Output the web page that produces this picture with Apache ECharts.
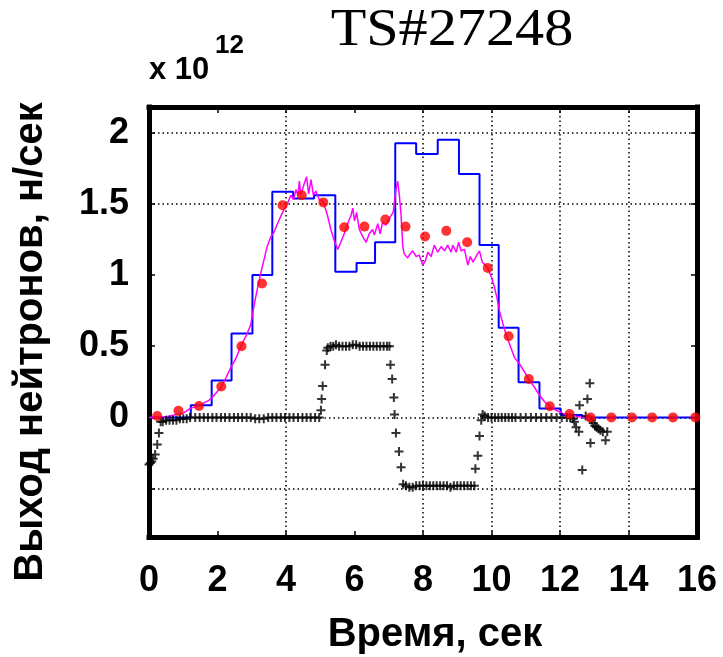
<!DOCTYPE html>
<html>
<head>
<meta charset="utf-8">
<script src="https://cdn.jsdelivr.net/npm/echarts@6/dist/echarts.min.js"></script>
<style>
  html, body { margin: 0; padding: 0; background: #fff; }
  #chart { width: 723px; height: 657px; }
</style>
</head>
<body>
<div id="chart"></div>
<script>
// blue step curve: start time of each step and its level (x 10^12 n/s)
const stepTimes = [0, 1.22, 1.83, 2.41, 3.02, 3.6, 4.21, 4.82, 5.44, 6.06, 6.6, 7.19, 7.8, 8.43, 9.05, 9.65, 10.21, 10.79, 11.4, 12.02, 12.65, 16];
const stepLevels = [0, 0.085, 0.26, 0.59, 1.0, 1.585, 1.537, 1.56, 1.023, 1.085, 1.23, 1.925, 1.85, 1.95, 1.71, 1.21, 0.63, 0.247, 0.062, 0.016, 0, 0];

// red dots
const dotTimes = [0.24, 0.86, 1.46, 2.11, 2.7, 3.3, 3.9, 4.46, 5.09, 5.7, 6.29, 6.9, 7.49, 8.06, 8.68, 9.29, 9.89, 10.5, 11.09, 11.7, 12.28, 12.89, 13.5, 14.1, 14.69, 15.3, 15.95];
const dotValues = [0.01, 0.046, 0.08, 0.217, 0.5, 0.94, 1.49, 1.56, 1.51, 1.335, 1.34, 1.39, 1.34, 1.27, 1.31, 1.23, 1.05, 0.57, 0.27, 0.078, 0.023, 0, 0, 0, 0, 0, 0];

// magenta measured trace
const traceTimes = [0, 0.5, 1.0, 1.22, 1.37, 1.55, 1.75, 1.92, 2.1, 2.25, 2.39, 2.55, 2.68, 2.85, 2.97, 3.07, 3.17, 3.27, 3.36, 3.45, 3.56, 3.65, 3.75, 3.9, 4.04, 4.14, 4.22, 4.29, 4.35, 4.39, 4.43, 4.53, 4.6, 4.66, 4.73, 4.8, 4.87, 4.97, 5.07, 5.12, 5.21, 5.31, 5.41, 5.51, 5.6, 5.7, 5.8, 5.9, 5.95, 6.0, 6.06, 6.14, 6.24, 6.34, 6.43, 6.53, 6.58, 6.68, 6.75, 6.82, 6.92, 7.02, 7.13, 7.21, 7.26, 7.31, 7.36, 7.41, 7.45, 7.5, 7.55, 7.6, 7.7, 7.8, 7.89, 7.99, 8.07, 8.14, 8.24, 8.33, 8.43, 8.53, 8.63, 8.72, 8.82, 8.87, 8.97, 9.04, 9.11, 9.21, 9.31, 9.38, 9.46, 9.55, 9.65, 9.73, 9.82, 9.89, 9.99, 10.09, 10.16, 10.23, 10.33, 10.43, 10.58, 10.67, 10.82, 10.96, 11.11, 11.26, 11.4, 11.55, 11.7, 11.89, 12.08, 12.28, 12.57, 12.8, 13.0];
const traceValues = [0, 0.005, 0.03, 0.065, 0.074, 0.095, 0.12, 0.16, 0.21, 0.28, 0.35, 0.42, 0.5, 0.58, 0.65, 0.79, 0.91, 1.02, 1.11, 1.2, 1.27, 1.3, 1.36, 1.44, 1.5, 1.56, 1.53, 1.6, 1.56, 1.66, 1.56, 1.64, 1.69, 1.57, 1.67, 1.56, 1.59, 1.53, 1.52, 1.49, 1.42, 1.32, 1.24, 1.18, 1.23, 1.29, 1.36, 1.42, 1.47, 1.38, 1.44, 1.32, 1.27, 1.23, 1.29, 1.32, 1.28, 1.36, 1.29, 1.37, 1.35, 1.4, 1.44, 1.6, 1.66, 1.56, 1.42, 1.2, 1.15, 1.16, 1.12, 1.14, 1.17, 1.13, 1.14, 1.07, 1.1, 1.16, 1.13, 1.21, 1.16, 1.2, 1.17, 1.21, 1.16, 1.21, 1.16, 1.23, 1.17, 1.18, 1.07, 1.13, 1.09, 1.13, 1.17, 1.09, 1.07, 1.05, 0.99, 0.91, 0.84, 0.75, 0.66, 0.58, 0.48, 0.42, 0.375, 0.32, 0.26, 0.21, 0.155, 0.11, 0.078, 0.05, 0.028, 0.016, 0.005, 0, 0];

// black crosses
const crossTimes = [
  0.0, 0.04, 0.08, 0.12, 0.18, 0.24, 0.29, 0.34,
  0.4, 0.5, 0.6, 0.7, 0.8, 0.9, 1.0, 1.1, 1.2, 1.35, 1.48, 1.6, 1.72, 1.85, 1.97, 2.1, 2.22, 2.35, 2.48, 2.6, 2.72, 2.85, 2.97, 3.1, 3.22, 3.35, 3.48, 3.6, 3.72, 3.85, 3.97, 4.1, 4.22, 4.35, 4.48, 4.6, 4.72, 4.85, 4.97,
  5.02, 5.04, 5.07, 5.14, 5.19,
  5.22, 5.3, 5.38, 5.46, 5.55, 5.65, 5.75, 5.85, 5.95, 6.05, 6.15, 6.25, 6.35, 6.45, 6.55, 6.65, 6.75, 6.85, 6.95, 7.02,
  7.05, 7.1, 7.15, 7.17, 7.21, 7.3, 7.36,
  7.42, 7.5, 7.6, 7.7, 7.8, 7.9, 8.0, 8.1, 8.2, 8.3, 8.4, 8.5, 8.6, 8.7, 8.8, 8.9, 9.0, 9.1, 9.2, 9.3, 9.4, 9.5,
  9.53, 9.6, 9.65, 9.7, 9.74,
  9.8, 9.9, 10.0, 10.1, 10.2, 10.3, 10.4, 10.5, 10.6, 10.7, 10.85, 11.0, 11.15, 11.3, 11.45, 11.6, 11.75, 11.9, 12.05, 12.2, 12.3, 12.38,
  12.42, 12.47, 12.55, 12.57, 12.65, 12.75, 12.8, 12.87, 12.89, 12.92, 12.97, 13.02, 13.07, 13.12, 13.18, 13.25, 13.33, 13.38
];
const crossValues = [
  -0.33, -0.32, -0.31, -0.29, -0.26, -0.19, -0.11, -0.03,
  -0.03, -0.02, -0.02, -0.02, -0.02, -0.01, -0.01, -0.01, 0, 0, 0, 0, 0, 0, 0, 0, 0, 0, 0, 0, 0, 0, 0, -0.01, -0.01, -0.01, 0, 0, 0, 0, 0, 0, 0, 0, 0, 0, 0, 0, 0,
  0.05, 0.13, 0.22, 0.37, 0.47,
  0.49, 0.5, 0.5, 0.51, 0.5, 0.5, 0.5, 0.5, 0.51, 0.51, 0.5, 0.5, 0.5, 0.5, 0.5, 0.5, 0.5, 0.5, 0.5, 0.5,
  0.37, 0.27, 0.14, 0.02, -0.11, -0.24, -0.35,
  -0.47, -0.48, -0.49, -0.49, -0.48, -0.48, -0.48, -0.48, -0.48, -0.48, -0.48, -0.48, -0.48, -0.48, -0.49, -0.48, -0.48, -0.48, -0.48, -0.48, -0.48, -0.48,
  -0.36, -0.27, -0.13, -0.02, 0.02,
  0.01, 0, 0, 0, 0, 0, 0, 0, 0, 0, 0, 0, 0, 0, 0, 0, 0, 0, 0, 0, 0, -0.01,
  -0.03, -0.07, -0.1, 0.085, -0.37, 0.01, 0.13, 0.24, -0.18, -0.02, -0.04, -0.06, -0.07, -0.08, -0.09, -0.1, -0.16, -0.1
];

// axes
const yTickValues = [-0.5, 0, 0.5, 1, 1.5, 2];
const yLabelValues = [0, 0.5, 1, 1.5, 2];
const xGridValues = [4, 8, 10, 12, 14];
const yGridValues = [-0.5, 0, 1.5, 2];

const pairs = (xs, ys) => xs.map((x, i) => [x, ys[i]]);

const chart = echarts.init(document.getElementById('chart'));

const sans = '"Liberation Sans", Arial, sans-serif';
const frameLine = { show: true, onZero: false, lineStyle: { color: '#000', width: 5, cap: 'square' } };
const innerTick = { show: true, inside: true, length: 6, lineStyle: { color: '#000', width: 1.5 } };
const dotted = { show: true, lineStyle: { color: '#000', width: 1.5, type: [1.5, 3] } };

const xRange = { type: 'value', min: 0, max: 16, interval: 2 };
const yRange = { type: 'value', min: -0.84, max: 2.18 };

const option = {
  animation: false,
  backgroundColor: '#fff',
  grid: { left: 149, top: 107, right: 26, bottom: 120, containLabel: false, outerBoundsMode: 'none' },
  xAxis: [
    Object.assign({}, xRange, {
      position: 'bottom',
      axisLine: frameLine,
      axisTick: innerTick,
      axisLabel: { margin: 26, color: '#000', fontWeight: 'bold', fontSize: 36, fontFamily: sans },
      splitLine: { show: false },
    }),
    Object.assign({}, xRange, {
      position: 'top',
      axisLine: frameLine,
      axisTick: innerTick,
      axisLabel: { show: false },
      splitLine: { show: false },
    }),
    Object.assign({}, xRange, {
      position: 'top',
      axisLine: { show: false, onZero: false },
      axisTick: { show: false, customValues: xGridValues },
      axisLabel: { show: false },
      splitLine: dotted,
    }),
  ],
  yAxis: [
    Object.assign({}, yRange, {
      position: 'left',
      axisLine: frameLine,
      axisTick: Object.assign({}, innerTick, { customValues: yTickValues }),
      axisLabel: { customValues: yLabelValues, margin: 20, color: '#000', fontWeight: 'bold', fontSize: 36, fontFamily: sans },
      splitLine: { show: false },
    }),
    Object.assign({}, yRange, {
      position: 'right',
      axisLine: frameLine,
      axisTick: Object.assign({}, innerTick, { customValues: yTickValues }),
      axisLabel: { show: false },
      splitLine: { show: false },
    }),
    Object.assign({}, yRange, {
      position: 'left',
      axisLine: { show: false, onZero: false },
      axisTick: { show: false, customValues: yGridValues },
      axisLabel: { show: false },
      splitLine: dotted,
    }),
  ],
  graphic: [
    { type: 'text', x: 452, y: 31, scaleX: 1.12,
      style: { text: 'TS#27248', font: '52px "Liberation Serif", "Times New Roman", serif', fill: '#000', textAlign: 'center', textVerticalAlign: 'middle' } },
    { type: 'text', x: 149, y: 70,
      style: { text: 'x 10', font: 'bold 31px ' + sans, fill: '#000', textAlign: 'left', textVerticalAlign: 'middle' } },
    { type: 'text', x: 215, y: 46,
      style: { text: '12', font: 'bold 26px ' + sans, fill: '#000', textAlign: 'left', textVerticalAlign: 'middle' } },
    { type: 'text', x: 31, y: 342, rotation: Math.PI / 2,
      style: { text: 'Выход нейтронов, н/сек', font: 'bold 40px ' + sans, fill: '#000', textAlign: 'center', textVerticalAlign: 'middle' } },
    { type: 'text', x: 435, y: 635,
      style: { text: 'Время, сек', font: 'bold 40px ' + sans, fill: '#000', textAlign: 'center', textVerticalAlign: 'middle' } },
  ],
  series: [
    {
      name: 'step',
      type: 'line',
      step: 'end',
      data: pairs(stepTimes, stepLevels),
      showSymbol: false,
      lineStyle: { color: '#0000ff', width: 2 },
      z: 2,
    },
    {
      name: 'trace',
      type: 'line',
      data: pairs(traceTimes, traceValues),
      showSymbol: false,
      lineStyle: { color: '#ff00ff', width: 1.5 },
      z: 3,
    },
    {
      name: 'cross',
      type: 'scatter',
      data: pairs(crossTimes, crossValues),
      symbol: 'path://M3.5,0H5.5V3.5H9V5.5H5.5V9H3.5V5.5H0V3.5H3.5Z',
      symbolSize: 9,
      itemStyle: { color: '#000' },
      z: 4,
    },
    {
      name: 'dots',
      type: 'scatter',
      data: pairs(dotTimes, dotValues),
      symbol: 'circle',
      symbolSize: 10,
      itemStyle: { color: '#ff0000' },
      z: 5,
    },
  ],
};

chart.setOption(option);
</script>
</body>
</html>
